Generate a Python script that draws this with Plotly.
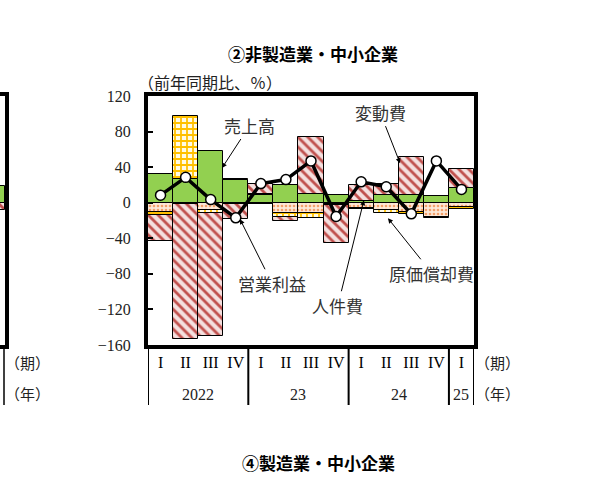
import plotly.graph_objects as go

# ②非製造業・中小企業 — 経常利益の要因分解 (前年同期比、%)
quarters = ["I", "II", "III", "IV", "I", "II", "III", "IV", "I", "II", "III", "IV", "I"]
years = ["2022", "23", "24", "25"]
year_spans = [(0, 3), (4, 7), (8, 11), (12, 12)]

sales = [32, 27, 58, 26, 8.5, 19.5, 10, 8.5, 2, 8.5, 8.5, 8, 16]            # 売上高
labor = [-10, -2, -8, -2, -1, -11, -11, -1, -5.5, -8.5, -10, -16, -4.5]     # 人件費
deprec = [-4, 70, -3, 1, 1.5, -5, -6, -2, -2, -3, -3, -1, -2.5]             # 原価償却費
variable = [-29, -151, -139, -16, 11, -5, 64, -42, 18, 13, 43, None, 22]   # 変動費
profit = [8.5, 28.5, 3.5, -17, 21.5, 26, 47, -15.5, 23.5, 18, -12.5, 47, 15]  # 営業利益

# edge of the neighbouring panel (only its last quarter shows)
left_sales = [19]
left_variable = [-8]

W, H = 604, 481
L, R, T, B = 148, 474, 96, 345
PH = B - T

def px(x):
    return x / W

def py(y):
    return (B - y) / PH

xs = list(range(len(quarters)))
serif = "Liberation Serif, Noto Sans CJK JP"
jp = "Noto Sans CJK JP"
outline = dict(color="black", width=1)
hatch = dict(shape="\\", fgcolor="#c0504d", bgcolor="#f4e0df", size=7, solidity=0.4, fillmode="replace")

fig = go.Figure()
fig.add_trace(go.Bar(x=xs, y=sales, name="売上高",
                     marker=dict(color="#92d050", line=outline)))
fig.add_trace(go.Bar(x=xs, y=labor, name="人件費",
                     marker=dict(color="#fde9d9", line=outline,
                                 pattern=dict(shape=".", fgcolor="#f4a06a", bgcolor="#fde9d9",
                                              size=4, solidity=0.35, fillmode="replace"))))
fig.add_trace(go.Bar(x=xs, y=deprec, name="原価償却費",
                     marker=dict(color="white", line=outline,
                                 pattern=dict(shape="+", fgcolor="#ffc000", bgcolor="#fffbe6",
                                              size=6, solidity=0.5, fillmode="replace"))))
fig.add_trace(go.Bar(x=xs, y=variable, name="変動費",
                     marker=dict(color="#f2dcdb", line=outline, pattern=hatch)))
fig.add_trace(go.Scatter(x=xs, y=profit, name="営業利益", mode="lines+markers",
                         line=dict(color="black", width=3.5),
                         marker=dict(symbol="circle", size=10, color="white",
                                     line=dict(color="black", width=1.5))))

# neighbouring panel fragment
fig.add_trace(go.Bar(x=[12], y=left_sales, xaxis="x2", yaxis="y2",
                     marker=dict(color="#92d050", line=outline)))
fig.add_trace(go.Bar(x=[12], y=left_variable, xaxis="x2", yaxis="y2",
                     marker=dict(color="#f2dcdb", line=outline, pattern=hatch)))

fig.update_layout(
    width=W, height=H,
    margin=dict(l=0, r=0, t=T, b=H - B),
    paper_bgcolor="white", plot_bgcolor="white",
    barmode="relative", bargap=0,
    showlegend=False,
    xaxis=dict(domain=[px(L), px(R)], range=[-0.5, 12.5],
               tickvals=xs, ticktext=quarters, ticks="",
               tickfont=dict(family=serif, size=16, color="black"),
               showline=True, mirror=True, linewidth=4, linecolor="black",
               showgrid=False, zeroline=False, layer="above traces"),
    yaxis=dict(range=[-160, 120], dtick=40, ticks="inside", ticklen=5, tickwidth=1.5,
               tickcolor="black", ticklabelstandoff=10,
               tickfont=dict(family=serif, size=16, color="#222"),
               showline=True, mirror=True, linewidth=4, linecolor="black",
               showgrid=False, zeroline=True, zerolinewidth=2.5, zerolinecolor="black",
               layer="above traces"),
    xaxis2=dict(domain=[0, px(5)], range=[12.3, 12.5], anchor="y2",
                showticklabels=False, ticks="", showgrid=False, zeroline=False,
                showline=True, mirror=True, linewidth=4, linecolor="black"),
    yaxis2=dict(range=[-160, 120], anchor="x2", showticklabels=False, ticks="",
                showgrid=False, zeroline=True, zerolinewidth=2, zerolinecolor="black",
                showline=True, mirror=True, linewidth=4, linecolor="black"),
)

# year separators under the axis
for b in [-0.5, 3.5, 7.5, 11.5, 12.5]:
    fig.add_shape(type="line", xref="x", yref="paper", x0=b, x1=b, y0=0, y1=py(405),
                  line=dict(color="black", width=2))
fig.add_shape(type="line", xref="paper", yref="paper", x0=px(4), x1=px(4), y0=0, y1=py(405),
              line=dict(color="black", width=1.5))

for name, (a, b) in zip(years, year_spans):
    fig.add_annotation(x=(a + b) / 2, y=py(394), xref="x", yref="paper", text=name,
                       xanchor="center", yanchor="middle", showarrow=False,
                       font=dict(family=serif, size=16, color="#222"))

for xx in [497, 27]:
    fig.add_annotation(x=px(xx), y=py(362), xref="paper", yref="paper", text="（期）",
                       xanchor="center", yanchor="middle", showarrow=False,
                       font=dict(family=jp, size=15, color="#222"))
    fig.add_annotation(x=px(xx), y=py(393), xref="paper", yref="paper", text="（年）",
                       xanchor="center", yanchor="middle", showarrow=False,
                       font=dict(family=jp, size=15, color="#222"))

# titles
titles = [
    ("<b>②非製造業・中小企業</b>", 313, 54, "center", 17, "black"),
    ("（前年同期比、％）", 136, 82, "left", 16, "#222"),
    ("<b>④製造業・中小企業</b>", 318, 462, "center", 17, "black"),
    ("（前年同期比、％）", 136, 490, "left", 16, "#222"),
]
for text, x, y, anchor, size, color in titles:
    fig.add_annotation(x=px(x), y=py(y), xref="paper", yref="paper", text=text,
                       xanchor=anchor, yanchor="middle", showarrow=False,
                       font=dict(family=jp, size=size, color=color))

# callouts
callouts = [
    ("売上高", 2.45, 39, 28, -43),
    ("変動費", 9.55, 44.5, -20, -51),
    ("営業利益", 3.17, -18.6, 32, 64),
    ("人件費", 8.11, 2.8, -26, 105),
    ("原価償却費", 9.07, -17.5, 44, 55),
]
for text, x, y, ax, ay in callouts:
    fig.add_annotation(x=x, y=y, xref="x", yref="y", ax=ax, ay=ay, text=text,
                       showarrow=True, arrowhead=2, arrowsize=1, arrowwidth=1,
                       arrowcolor="black", bgcolor="rgba(0,0,0,0)",
                       font=dict(family=jp, size=17, color="#333"))

# the page has a default 8px body margin; drop it so the figure sits at the corner
fig.write_html("out.html", config={"displayModeBar": False},
               post_script="document.body.style.margin='0';")
